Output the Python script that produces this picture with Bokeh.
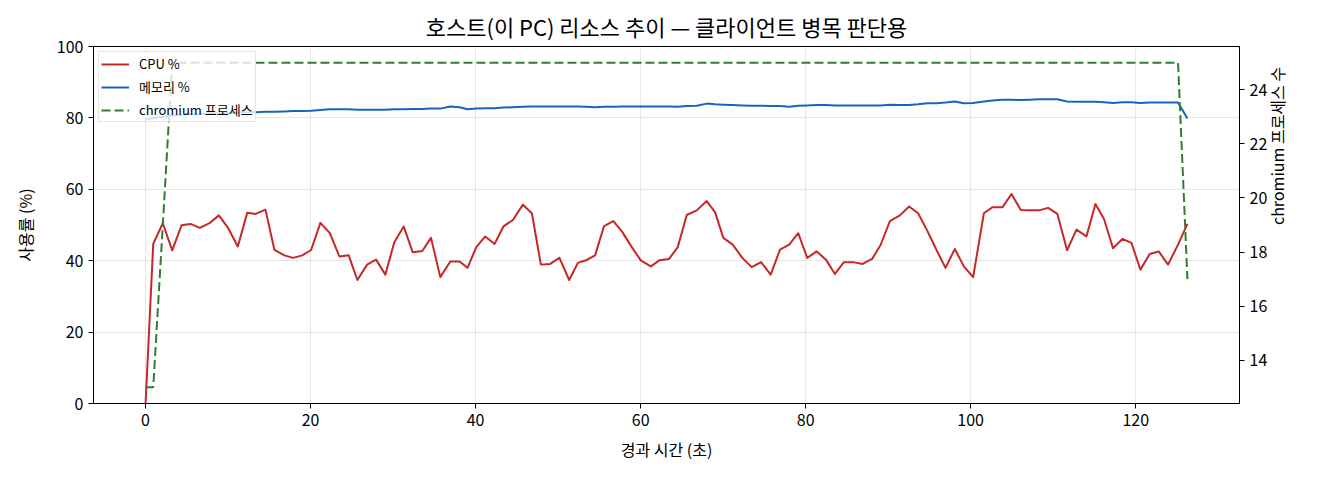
import math

from bokeh.plotting import figure
from bokeh.models import Range1d, LinearAxis, FixedTicker, Legend, LegendItem
from bokeh.embed import file_html
from bokeh.resources import INLINE

# 경과 시간 (초) - 샘플 시각
elapsed = [0.0, 0.93, 2.09, 3.23, 4.36, 5.45, 6.58, 7.75, 8.88, 10.02,
           11.18, 12.32, 13.36, 14.53, 15.62, 16.83, 17.89, 18.98, 20.07, 21.19,
           22.32, 23.49, 24.62, 25.67, 26.85, 27.94, 29.06, 30.15, 31.28, 32.37,
           33.54, 34.59, 35.72, 36.93, 38.05, 39.02, 40.08, 41.17, 42.29, 43.38,
           44.52, 45.73, 46.82, 47.91, 49.04, 50.16, 51.34, 52.39, 53.48, 54.48,
           55.57, 56.70, 57.79, 58.93, 60.02, 61.23, 62.27, 63.45, 64.50, 65.59,
           66.80, 68.01, 69.02, 70.02, 71.16, 72.32, 73.46, 74.59, 75.76, 76.89,
           78.01, 79.10, 80.19, 81.33, 82.46, 83.55, 84.64, 85.73, 86.90, 88.06,
           89.08, 90.21, 91.42, 92.54, 93.63, 94.72, 95.86, 96.95, 98.08, 99.17,
           100.30, 101.60, 102.65, 103.86, 104.95, 106.07, 107.16, 108.29, 109.38, 110.51,
           111.68, 112.82, 114.03, 115.12, 116.16, 117.25, 118.39, 119.48, 120.57, 121.70,
           122.79, 123.92, 125.13, 126.27]

cpu_pct = [0.0, 44.7, 50.5, 42.9, 49.9, 50.3, 49.2, 50.5, 52.7, 49.1,
           44.0, 53.4, 53.1, 54.3, 43.0, 41.5, 40.8, 41.5, 43.0, 50.6,
           47.8, 41.2, 41.5, 34.6, 38.9, 40.3, 36.1, 45.2, 49.6, 42.4,
           42.7, 46.4, 35.4, 39.8, 39.8, 38.0, 43.8, 46.8, 44.7, 49.6,
           51.4, 55.7, 53.3, 38.9, 39.1, 40.8, 34.6, 39.4, 40.2, 41.5,
           49.7, 51.1, 48.0, 43.8, 40.1, 38.4, 40.1, 40.5, 43.8, 52.8,
           54.1, 56.7, 53.6, 46.4, 44.5, 40.8, 38.2, 39.6, 36.1, 43.1,
           44.5, 47.7, 40.8, 42.6, 40.3, 36.3, 39.6, 39.6, 39.1, 40.5,
           44.4, 51.1, 52.7, 55.2, 53.3, 48.5, 43.0, 38.0, 43.3, 38.4,
           35.4, 53.3, 55.0, 55.0, 58.7, 54.2, 54.1, 54.1, 54.8, 53.1,
           42.9, 48.7, 46.8, 55.9, 51.7, 43.5, 46.1, 45.0, 37.5, 41.9,
           42.6, 38.9, 44.5, 50.3]

mem_pct = [79.5, 80.0, 80.3, 80.6, 80.8, 81.0, 81.1, 81.2, 81.3, 81.4,
           81.5, 81.6, 81.6, 81.7, 81.7, 81.8, 81.9, 81.9, 82.0, 82.2,
           82.4, 82.4, 82.4, 82.3, 82.3, 82.3, 82.3, 82.4, 82.4, 82.5,
           82.5, 82.6, 82.6, 83.2, 83.0, 82.4, 82.6, 82.7, 82.7, 82.9,
           83.0, 83.1, 83.2, 83.2, 83.2, 83.2, 83.2, 83.2, 83.1, 83.0,
           83.1, 83.1, 83.2, 83.2, 83.2, 83.2, 83.2, 83.2, 83.1, 83.3,
           83.4, 84.0, 83.8, 83.7, 83.6, 83.5, 83.4, 83.4, 83.3, 83.3,
           83.1, 83.4, 83.5, 83.6, 83.6, 83.5, 83.5, 83.5, 83.5, 83.5,
           83.5, 83.7, 83.6, 83.6, 83.8, 84.1, 84.1, 84.3, 84.6, 84.1,
           84.2, 84.6, 84.9, 85.1, 85.1, 85.0, 85.1, 85.2, 85.2, 85.2,
           84.6, 84.5, 84.5, 84.5, 84.4, 84.2, 84.4, 84.4, 84.2, 84.3,
           84.3, 84.3, 84.3, 79.8]

chromium_procs = [13, 13, 19, 25, 25, 25, 25, 25, 25, 25,
                  25, 25, 25, 25, 25, 25, 25, 25, 25, 25,
                  25, 25, 25, 25, 25, 25, 25, 25, 25, 25,
                  25, 25, 25, 25, 25, 25, 25, 25, 25, 25,
                  25, 25, 25, 25, 25, 25, 25, 25, 25, 25,
                  25, 25, 25, 25, 25, 25, 25, 25, 25, 25,
                  25, 25, 25, 25, 25, 25, 25, 25, 25, 25,
                  25, 25, 25, 25, 25, 25, 25, 25, 25, 25,
                  25, 25, 25, 25, 25, 25, 25, 25, 25, 25,
                  25, 25, 25, 25, 25, 25, 25, 25, 25, 25,
                  25, 25, 25, 25, 25, 25, 25, 25, 25, 25,
                  25, 25, 25, 17]

x_ticks = [0, 20, 40, 60, 80, 100, 120]
pct_ticks = [0, 20, 40, 60, 80, 100]
proc_ticks = [14, 16, 18, 20, 22, 24]

FONT = "Noto Sans CJK KR"

p = figure(width=1304, height=464, output_backend="svg", toolbar_location=None,
           x_range=Range1d(-6.31, 132.58), y_range=Range1d(0, 100),
           title="호스트(이 PC) 리소스 추이 — 클라이언트 병목 판단용",
           min_border_left=93, min_border_right=65, min_border_top=46, min_border_bottom=61)
p.extra_y_ranges = {"procs": Range1d(12.4, 25.6)}

p.title.align = "center"
p.title.text_font = FONT
p.title.text_font_size = "22px"
p.title.text_font_style = "normal"
p.title.text_color = "black"

p.outline_line_color = "black"
p.outline_line_alpha = 1
p.outline_line_width = 1

# 격자
p.xgrid.grid_line_color = "#b0b0b0"
p.ygrid.grid_line_color = "#b0b0b0"
p.xgrid.grid_line_alpha = 0.3
p.ygrid.grid_line_alpha = 0.3

right_axis = LinearAxis(y_range_name="procs", axis_label="chromium 프로세스 수")
p.add_layout(right_axis, "right")

p.xaxis.axis_label = "경과 시간 (초)"
p.yaxis[0].axis_label = "사용률 (%)"
p.xaxis.ticker = FixedTicker(ticks=x_ticks)
p.yaxis[0].ticker = FixedTicker(ticks=pct_ticks)
right_axis.ticker = FixedTicker(ticks=proc_ticks)

for ax in p.xaxis + p.yaxis:
    ax.axis_label_text_font = FONT
    ax.axis_label_text_font_size = "16px"
    ax.axis_label_text_font_style = "normal"
    ax.axis_label_text_color = "black"
    ax.major_label_text_font = FONT
    ax.major_label_text_font_size = "16px"
    ax.major_label_text_color = "black"
    ax.axis_line_color = "black"
    ax.major_tick_line_color = "black"
    ax.major_tick_in = 0
    ax.major_tick_out = 5
    ax.minor_tick_line_color = None
    ax.major_label_standoff = 5
    ax.axis_label_standoff = 8

p.yaxis[0].axis_label_standoff = 17
right_axis.axis_label_standoff = 7
# 오른쪽 축 라벨은 아래에서 위로 읽히게
right_axis.axis_label_orientation = math.pi / 2

cpu_line = p.line(elapsed, cpu_pct, line_color="#c62828", line_width=2, line_join="round")
mem_line = p.line(elapsed, mem_pct, line_color="#1565c0", line_width=2, line_join="round")
proc_line = p.line(elapsed, chromium_procs, y_range_name="procs", line_color="#2e7d32",
                   line_width=2, line_dash="9 4")

legend = Legend(items=[LegendItem(label="CPU %", renderers=[cpu_line]),
                       LegendItem(label="메모리 %", renderers=[mem_line]),
                       LegendItem(label="chromium 프로세스", renderers=[proc_line])],
                location="top_left")
legend.label_text_font = FONT
legend.label_text_font_size = "13px"
legend.label_text_color = "black"
legend.glyph_width = 28
legend.glyph_height = 16
legend.label_height = 16
legend.spacing = 4
legend.padding = 2
legend.margin = 5
legend.label_standoff = 10
legend.border_line_color = "#cccccc"
legend.background_fill_alpha = 0.8
p.add_layout(legend)

open("out.html", "w").write(file_html(p, INLINE))
